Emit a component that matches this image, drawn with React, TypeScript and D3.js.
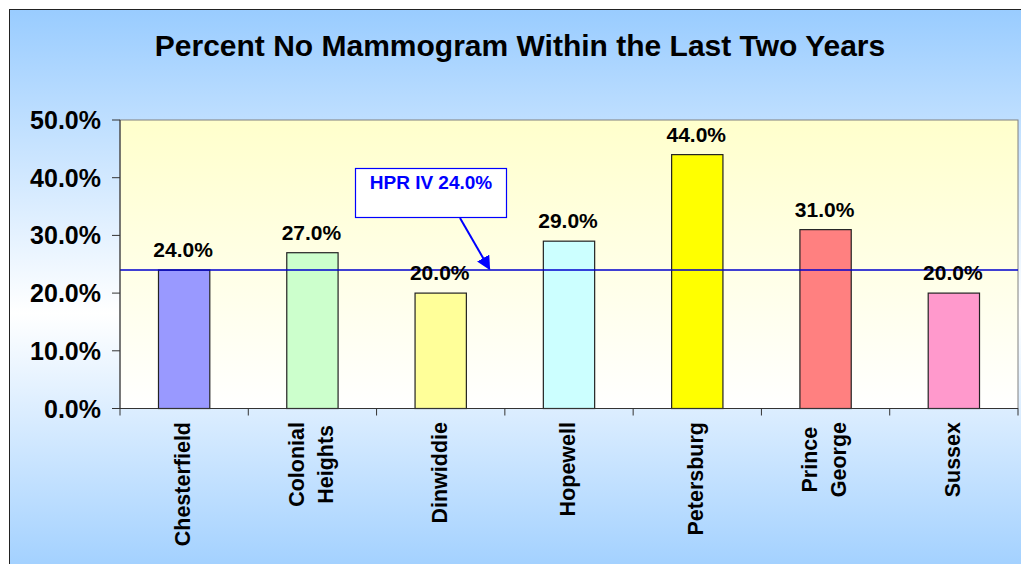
import React, { useEffect, useRef } from "react";
import * as d3 from "d3";

const title = "Percent No Mammogram Within the Last Two Years";
const categories = ["Chesterfield", "Colonial\nHeights", "Dinwiddie", "Hopewell", "Petersburg", "Prince\nGeorge", "Sussex"];
const values = [24.0, 27.0, 20.0, 29.0, 44.0, 31.0, 20.0];
const barColors = ["#9999FF", "#CCFFCC", "#FFFF99", "#CCFFFF", "#FFFF00", "#FF8080", "#FF99CC"];
const yTicks = [0, 10, 20, 30, 40, 50];
const refValue = 24.0;
const refLabel = "HPR IV 24.0%";

const W = 1021;
const H = 564;
const FONT = "'Liberation Sans', Arial, sans-serif";

export default function App() {
  const ref = useRef<SVGSVGElement>(null);

  useEffect(() => {
    const svg = d3.select(ref.current);
    svg.selectAll("*").remove();

    const defs = svg.append("defs");
    const bg = defs.append("linearGradient").attr("id", "bgGrad").attr("x1", 0).attr("y1", 0).attr("x2", 0).attr("y2", 1);
    bg.append("stop").attr("offset", "0%").attr("stop-color", "#99CCFF");
    bg.append("stop").attr("offset", "52%").attr("stop-color", "#FFFFFF");
    bg.append("stop").attr("offset", "100%").attr("stop-color", "#99CCFF");
    const pg = defs.append("linearGradient").attr("id", "plotGrad").attr("x1", 0).attr("y1", 0).attr("x2", 0).attr("y2", 1);
    pg.append("stop").attr("offset", "0%").attr("stop-color", "#FFFFCC");
    pg.append("stop").attr("offset", "100%").attr("stop-color", "#FFFFFF");
    defs.append("marker").attr("id", "arrow").attr("viewBox", "0 0 10 10").attr("refX", 9).attr("refY", 5)
      .attr("markerWidth", 7).attr("markerHeight", 7).attr("orient", "auto-start-reverse")
      .append("path").attr("d", "M0,0 L10,5 L0,10 z").attr("fill", "#0000FF");

    // outer background
    svg.append("rect").attr("x", 9.5).attr("y", 9.5).attr("width", W + 20).attr("height", H + 20)
      .attr("fill", "url(#bgGrad)").attr("stroke", "#222").attr("stroke-width", 1);

    const left = 120, right = 1018, top = 120, bottom = 408.5;
    const x = d3.scaleBand().domain(categories).range([left, right]).paddingInner(0).paddingOuter(0);
    const y = d3.scaleLinear().domain([0, 50]).range([bottom, top]);

    // title
    svg.append("text").attr("x", 520).attr("y", 56).attr("text-anchor", "middle")
      .attr("font-family", FONT).attr("font-weight", "bold").attr("font-size", 30).attr("fill", "#000").text(title);

    // plot area
    svg.append("rect").attr("x", left).attr("y", top).attr("width", right - left).attr("height", bottom - top)
      .attr("fill", "url(#plotGrad)").attr("stroke", "#808080").attr("stroke-width", 1);

    // bars
    const bw = x.bandwidth() * 0.4;
    svg.append("g").selectAll("rect").data(values).join("rect")
      .attr("x", (_, i) => x(categories[i])! + (x.bandwidth() - bw) / 2)
      .attr("y", (d) => y(d))
      .attr("width", bw)
      .attr("height", (d) => bottom - y(d))
      .attr("fill", (_, i) => barColors[i])
      .attr("stroke", "#222").attr("stroke-width", 1.2);

    // reference line
    svg.append("line").attr("x1", left).attr("x2", right).attr("y1", y(refValue)).attr("y2", y(refValue))
      .attr("stroke", "#0000CC").attr("stroke-width", 1.5);

    // data labels
    svg.append("g").selectAll("text").data(values).join("text")
      .attr("x", (_, i) => x(categories[i])! + x.bandwidth() / 2 - 1)
      .attr("y", (d) => y(d) - 13)
      .attr("text-anchor", "middle")
      .attr("font-family", FONT).attr("font-weight", "bold").attr("font-size", 21).attr("fill", "#000")
      .text((d) => d.toFixed(1) + "%");

    // y axis
    const ya = svg.append("g");
    ya.append("line").attr("x1", left).attr("x2", left).attr("y1", top).attr("y2", bottom).attr("stroke", "#333");
    yTicks.forEach((t) => {
      ya.append("line").attr("x1", left - 8).attr("x2", left).attr("y1", y(t)).attr("y2", y(t)).attr("stroke", "#333");
      ya.append("text").attr("x", 101).attr("y", y(t) + 9).attr("text-anchor", "end")
        .attr("font-family", FONT).attr("font-weight", "bold").attr("font-size", 25).attr("fill", "#000")
        .text(t.toFixed(1) + "%");
    });

    // x axis
    const xa = svg.append("g");
    xa.append("line").attr("x1", left).attr("x2", right).attr("y1", bottom).attr("y2", bottom).attr("stroke", "#333");
    for (let i = 0; i <= categories.length; i++) {
      const xx = left + i * x.bandwidth();
      xa.append("line").attr("x1", xx).attr("x2", xx).attr("y1", bottom).attr("y2", bottom + 7).attr("stroke", "#333");
    }
    categories.forEach((c) => {
      const lines = c.split("\n");
      const cx = x(c)! + x.bandwidth() / 2;
      const g = xa.append("g");
      const texts = lines.map((ln, j) => {
        const off = (j - (lines.length - 1) / 2) * 29;
        return g.append("text").attr("font-family", FONT).attr("font-weight", "bold").attr("font-size", 21.5)
          .attr("fill", "#000").attr("text-anchor", "middle").attr("data-off", off).text(ln);
      });
      const maxLen = Math.max(...texts.map((t) => (t.node() as SVGTextElement).getComputedTextLength()));
      const cy = 422 + maxLen / 2;
      texts.forEach((t) => {
        const off = +t.attr("data-off");
        t.attr("transform", `translate(${cx + off + 6},${cy}) rotate(-90)`);
      });
    });

    // HPR annotation
    svg.append("rect").attr("x", 355.5).attr("y", 168.5).attr("width", 151).attr("height", 49)
      .attr("fill", "#FFFFFF").attr("stroke", "#0000FF").attr("stroke-width", 1.2);
    svg.append("text").attr("x", 431).attr("y", 189).attr("text-anchor", "middle")
      .attr("font-family", FONT).attr("font-weight", "bold").attr("font-size", 19).attr("fill", "#0000FF").text(refLabel);
    svg.append("line").attr("x1", 460).attr("y1", 218).attr("x2", x(categories[2])! + x.bandwidth() * 0.88).attr("y2", y(refValue) - 1)
      .attr("stroke", "#0000FF").attr("stroke-width", 2).attr("marker-end", "url(#arrow)");
  }, []);

  return (
    <svg ref={ref} width={W} height={H} style={{ position: "absolute", left: 0, top: 0, background: "#fff" }} />
  );
}
